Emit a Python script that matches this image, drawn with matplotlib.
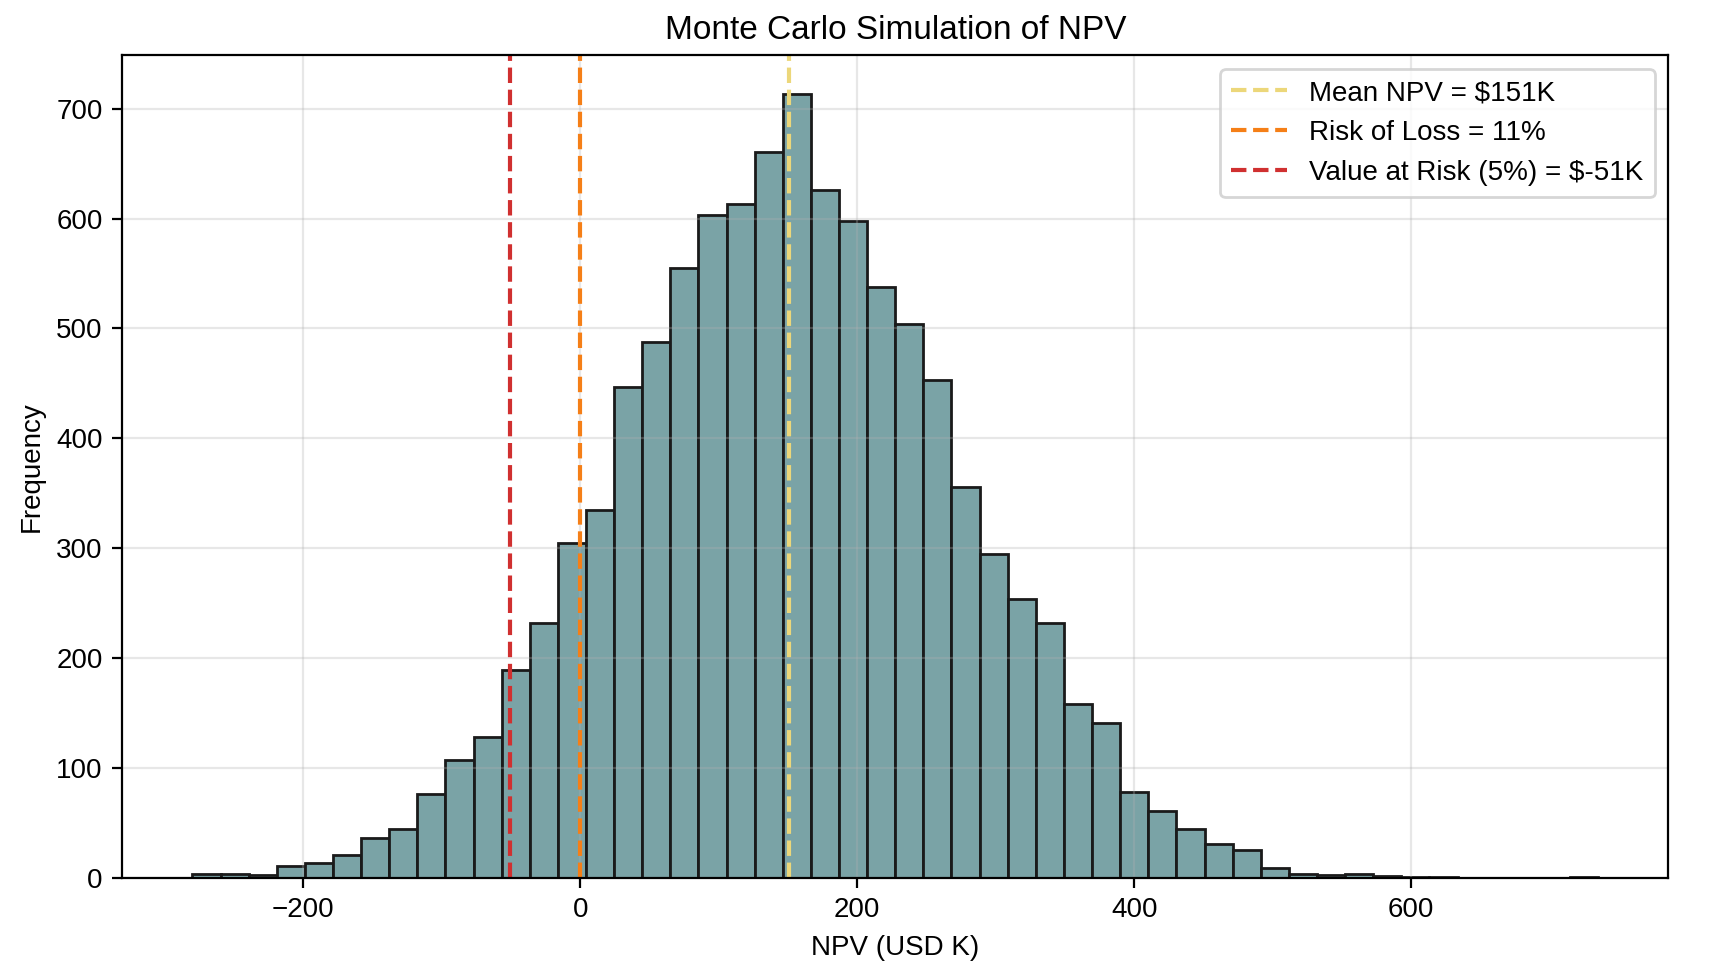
import matplotlib
matplotlib.use('Agg')
import matplotlib.pyplot as plt
import numpy as np

plt.rcParams['font.family'] = ['Liberation Sans', 'DejaVu Sans']

# histogram counts (50 bins)
bin_start = -280.0
bin_width = 20.3
counts = [4, 4, 3, 11, 14, 21, 36, 45, 76, 107,
          128, 189, 232, 305, 335, 447, 488, 555, 603, 613,
          661, 713, 626, 598, 538, 504, 453, 356, 295, 254,
          232, 158, 141, 78, 61, 45, 31, 25, 9, 4,
          3, 4, 2, 1, 1, 0, 0, 0, 0, 1]

mean_npv = 151
var_5 = -51
risk_of_loss = 11

edges = bin_start + bin_width * np.arange(len(counts) + 1)
centers = (edges[:-1] + edges[1:]) / 2

fig, ax = plt.subplots(figsize=(8.6, 4.84), dpi=200)

ax.hist(centers, bins=edges, weights=counts, color='#7aa3a6',
        edgecolor='#1a1a1a', linewidth=1.0, alpha=1.0)

ax.axvline(mean_npv, color='#ecd77a', linestyle='--', linewidth=1.5,
           label=f'Mean NPV = ${mean_npv}K')
ax.axvline(0, color='#f57f17', linestyle='--', linewidth=1.5,
           label=f'Risk of Loss = {risk_of_loss}%')
ax.axvline(var_5, color='#d03030', linestyle='--', linewidth=1.5,
           label=f'Value at Risk (5%) = ${var_5}K')

ax.set_title('Monte Carlo Simulation of NPV', fontsize=12)
ax.set_xlabel('NPV (USD K)')
ax.set_ylabel('Frequency')
ax.grid(True, alpha=0.3)
ax.legend(loc='upper right')

plt.subplots_adjust(left=0.071, right=0.970, bottom=0.093, top=0.943)
plt.savefig('out.png', dpi=200)
plt.close()
